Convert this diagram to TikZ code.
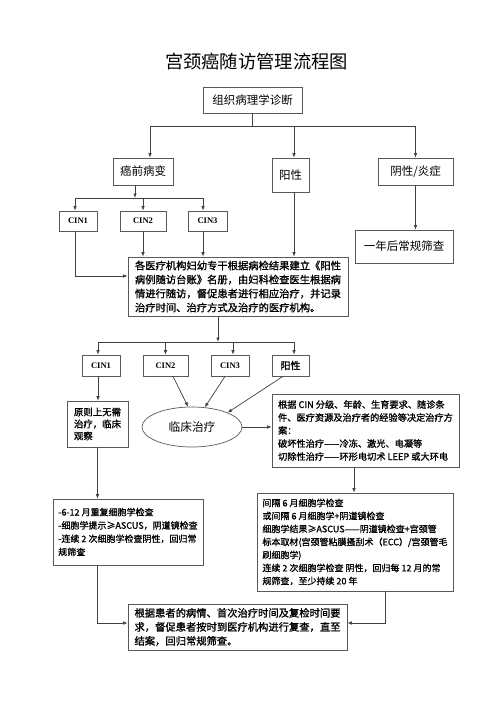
\documentclass[tikz,border=0pt]{standalone}
\usepackage{fontspec}
\setmainfont{Noto Sans CJK SC}
\newfontfamily\cjkb{Noto Sans CJK SC}[FakeBold=1.2]
\newfontfamily\tnr{Liberation Serif}
\usetikzlibrary{arrows.meta,shapes.geometric}
\begin{document}
\begin{tikzpicture}[x=1pt,y=-1pt,
 box/.style={draw=black!65, line width=0.7pt, rectangle, inner sep=0pt, align=left, text=black},
 conn/.style={draw=black!75, line width=0.7pt},
 arr/.style={conn, -{Latex[length=4.5pt,width=3.5pt]}},
 lab/.style={font=\fontsize{11.5}{14}\selectfont},
 cin/.style={font=\tnr\bfseries\fontsize{8.5}{10}\selectfont},
 bodyA/.style={font=\cjkb\fontsize{10.3}{14}\selectfont},
 bodyB/.style={font=\cjkb\fontsize{9.2}{13}\selectfont},
 bodyC/.style={font=\cjkb\fontsize{9}{13.3}\selectfont},
]
\useasboundingbox[fill=white] (0,0) rectangle (500,707);

\node[font=\fontsize{18.3}{20}\selectfont] (title) at (256.5,61) {宫颈癌随访管理流程图};

\node[box, lab, minimum width=99pt, minimum height=26pt] (diag) at (252.5,100) {组织病理学诊断};
\node[box, lab, minimum width=60pt, minimum height=27pt] (pre) at (143,171.5) {癌前病变};
\node[box, lab, minimum width=37pt, minimum height=34pt] (pos) at (290.5,175) {阳性};
\node[box, lab, minimum width=75pt, minimum height=27pt] (neg) at (415.5,171.5) {阴性/炎症};
\node[box, lab, minimum width=98pt, minimum height=33pt] (year) at (404,246.5) {一年后常规筛查};

\node[box, cin, minimum width=38pt, minimum height=20pt] (c1) at (78,221) {CIN1};
\node[box, cin, minimum width=46pt, minimum height=20pt] (c2) at (143,221) {CIN2};
\node[box, cin, minimum width=39pt, minimum height=20pt] (c3) at (207.5,221) {CIN3};

\node[box, bodyA, minimum width=220pt, minimum height=59pt] (big) at (238,286.5)
 {各医疗机构妇幼专干根据病检结果建立《阳性\\病例随访台账》名册，由妇科检查医生根据病\\情进行随访，督促患者进行相应治疗，并记录\\治疗时间、治疗方式及治疗的医疗机构。};

\node[box, cin, minimum width=38pt, minimum height=21pt] (d1) at (101,365.5) {CIN1};
\node[box, cin, minimum width=45pt, minimum height=21pt] (d2) at (165.5,365.5) {CIN2};
\node[box, cin, minimum width=38pt, minimum height=21pt] (d3) at (230,365.5) {CIN3};
\node[box, font=\cjkb\fontsize{10}{12}\selectfont, minimum width=37pt, minimum height=21pt] (d4) at (290.5,365.5) {阳性};

\node[box, font=\cjkb\fontsize{9.4}{12}\selectfont, minimum width=61pt, minimum height=46pt] (obs) at (97.5,424)
 {原则上无需\\治疗，临床\\观察};
\node[ellipse, draw=black!65, line width=0.7pt, minimum width=100pt, minimum height=40pt, inner sep=0pt,
 font=\fontsize{11.7}{14}\selectfont] (ell) at (192,427) {临床治疗};
\node[box, bodyB, minimum width=187pt, minimum height=73pt] (plan) at (365.5,430.5)
 {根据 CIN 分级、年龄、生育要求、随诊条\\件、医疗资源及治疗者的经验等决定治疗方\\案：\\破坏性治疗——冷冻、激光、电凝等\\切除性治疗——环形电切术 LEEP 或大环电};

\node[box, bodyC, minimum width=150pt, minimum height=66pt] (fl) at (128,532)
 {-6-12 月重复细胞学检查\\-细胞学提示≥ASCUS，阴道镜检查\\-连续 2 次细胞学检查阴性，回归常\\规筛查};
\node[box, font=\cjkb\fontsize{9}{13}\selectfont, minimum width=196pt, minimum height=98pt] (fr) at (355,542)
 {间隔 6 月细胞学检查\\或间隔 6 月细胞学+阴道镜检查\\细胞学结果≥ASCUS——阴道镜检查+宫颈管\\标本取材(宫颈管粘膜搔刮术（ECC）/宫颈管毛\\刷细胞学)\\连续 2 次细胞学检查 阴性，回归每 12 月的常\\规筛查，至少持续 20 年};

\node[box, bodyA, minimum width=219pt, minimum height=46pt] (end) at (237.5,627)
 {根据患者的病情、首次治疗时间及复检时间要\\求，督促患者按时到医疗机构进行复查，直至\\结案，回归常规筛查。};

% connectors
\coordinate (j1) at (252.5,126);
\draw[conn] (diag.south) -- (j1);
\draw[arr] (j1) -| ([xshift=7pt]pre.north);
\draw[arr] (j1) -| ([xshift=3.5pt]pos.north);
\draw[arr] (j1) -| (neg.north);

\coordinate (j2) at (135,198);
\draw[arr] (pre.south -| j2) -- (j2);
\draw[arr] (j2) -| ([xshift=-3pt]c1.north);
\draw[arr] (j2) -| (c2.north);
\draw[arr] (j2) -| ([xshift=-4.5pt]c3.north);

\draw[arr] ([xshift=-3pt]c1.south) |- ([yshift=10.5pt]big.west);
\draw[arr] (c2.south) -- (c2.south |- big.north);
\draw[arr] ([xshift=-4.5pt]c3.south) -- ([xshift=-4.5pt]c3.south |- big.north);
\draw[arr] ([xshift=3.5pt]pos.south) -- ([xshift=3.5pt]pos.south |- big.north);
\draw[arr] (neg.south) -- (neg.south |- year.north);

\coordinate (j3) at (218,342);
\draw[arr] (j3 |- big.south) -- (j3);
\draw[arr] (j3) -| ([xshift=-3pt]d1.north);
\draw[arr] (j3) -| (d2.north);
\draw[arr] (j3) -| ([xshift=3pt]d3.north);
\draw[arr] (j3) -| ([xshift=3.5pt]d4.north);

\draw[arr] ([xshift=-3pt]d1.south) -- ([xshift=-3pt]d1.south |- obs.north);
\draw[arr] ([xshift=7.5pt]d2.south) -- (ell.101);
\draw[arr] ([xshift=-5pt]d3.south) -- (ell.57);
\draw[arr] ([xshift=-7.5pt]d4.south) -- (ell.22);
\draw[arr] (ell.east) -- (ell.east -| plan.west);
\draw[arr] ([xshift=-11.5pt]plan.south) -- ([xshift=-11.5pt]plan.south |- fr.north);
\draw[arr] (obs.south) -- (obs.south |- fl.north);
\draw[arr] (obs.south |- fl.south) |- ([yshift=4pt]end.west);
\draw[arr] ([xshift=30pt]fr.south) |- ([yshift=4pt]end.east);
\end{tikzpicture}
\end{document}
